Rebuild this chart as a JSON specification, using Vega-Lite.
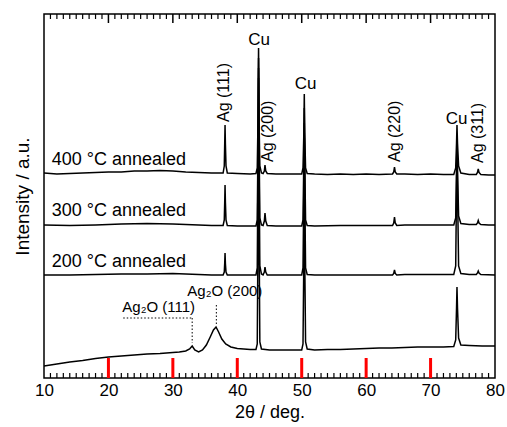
{
  "$schema": "https://vega.github.io/schema/vega-lite/v6.json",
  "width": 451,
  "height": 364,
  "autosize": {"type": "none"},
  "padding": {"left": 44, "top": 14, "right": 12, "bottom": 49},
  "background": "white",
  "config": {
    "view": {"stroke": "black", "strokeWidth": 1.5},
    "font": "Liberation Sans",
    "axis": {"labelFont": "Liberation Sans", "titleFont": "Liberation Sans", "labelColor": "black", "titleColor": "black", "grid": false, "titleFontWeight": "normal"}
  },
  "datasets": {
    "xrd": [
      {"s":"400","t":10,"i":205},{"s":"400","t":12,"i":204},{"s":"400","t":14,"i":204.5},{"s":"400","t":16,"i":205},{"s":"400","t":18,"i":205.5},{"s":"400","t":20,"i":206},{"s":"400","t":22,"i":206},{"s":"400","t":24,"i":207},{"s":"400","t":26,"i":207},{"s":"400","t":28,"i":207.5},{"s":"400","t":30,"i":207},{"s":"400","t":32,"i":206},{"s":"400","t":34,"i":205.5},{"s":"400","t":36,"i":205},
      {"s":"400","t":37.8,"i":205},{"s":"400","t":37.98,"i":212},{"s":"400","t":38.05,"i":235},{"s":"400","t":38.1,"i":253},{"s":"400","t":38.16,"i":233},{"s":"400","t":38.25,"i":212},{"s":"400","t":38.45,"i":205},
      {"s":"400","t":40,"i":204.5},{"s":"400","t":42,"i":204},
      {"s":"400","t":42.9,"i":204.5},{"s":"400","t":43.1,"i":210},{"s":"400","t":43.22,"i":260},{"s":"400","t":43.3,"i":330},{"s":"400","t":43.38,"i":258},{"s":"400","t":43.5,"i":212},{"s":"400","t":43.75,"i":205},
      {"s":"400","t":44.0,"i":204.5},{"s":"400","t":44.2,"i":207},{"s":"400","t":44.3,"i":213},{"s":"400","t":44.42,"i":207},{"s":"400","t":44.65,"i":204.5},
      {"s":"400","t":46,"i":204},{"s":"400","t":48,"i":204},
      {"s":"400","t":50.0,"i":204},{"s":"400","t":50.2,"i":210},{"s":"400","t":50.33,"i":245},{"s":"400","t":50.4,"i":284},{"s":"400","t":50.47,"i":245},{"s":"400","t":50.6,"i":210},{"s":"400","t":50.85,"i":204.5},
      {"s":"400","t":52,"i":204},{"s":"400","t":54,"i":203.5},{"s":"400","t":56,"i":204},{"s":"400","t":58,"i":203.5},{"s":"400","t":60,"i":204},{"s":"400","t":62,"i":203.5},
      {"s":"400","t":64.1,"i":204},{"s":"400","t":64.28,"i":206},{"s":"400","t":64.4,"i":211},{"s":"400","t":64.52,"i":206},{"s":"400","t":64.75,"i":204},
      {"s":"400","t":66,"i":204},{"s":"400","t":68,"i":203.5},{"s":"400","t":70,"i":204},{"s":"400","t":72,"i":203.5},
      {"s":"400","t":73.6,"i":203.5},{"s":"400","t":73.9,"i":210},{"s":"400","t":74.03,"i":235},{"s":"400","t":74.1,"i":253},{"s":"400","t":74.18,"i":235},{"s":"400","t":74.35,"i":212},{"s":"400","t":74.7,"i":205},
      {"s":"400","t":76,"i":203.5},
      {"s":"400","t":77.1,"i":203.5},{"s":"400","t":77.28,"i":205.5},{"s":"400","t":77.4,"i":209},{"s":"400","t":77.52,"i":205.5},{"s":"400","t":77.8,"i":203.5},
      {"s":"400","t":79,"i":203},{"s":"400","t":80,"i":203},

      {"s":"300","t":10,"i":153},{"s":"300","t":14,"i":152.5},{"s":"300","t":18,"i":153},{"s":"300","t":22,"i":154},{"s":"300","t":26,"i":154.5},{"s":"300","t":30,"i":154},{"s":"300","t":34,"i":153},{"s":"300","t":36,"i":152.5},
      {"s":"300","t":37.8,"i":152.5},{"s":"300","t":37.98,"i":158},{"s":"300","t":38.05,"i":176},{"s":"300","t":38.1,"i":193},{"s":"300","t":38.16,"i":175},{"s":"300","t":38.25,"i":158},{"s":"300","t":38.45,"i":152.5},
      {"s":"300","t":40,"i":152},
      {"s":"300","t":42.9,"i":152},{"s":"300","t":43.1,"i":158},{"s":"300","t":43.22,"i":240},{"s":"300","t":43.3,"i":320},{"s":"300","t":43.38,"i":238},{"s":"300","t":43.5,"i":160},{"s":"300","t":43.75,"i":153},
      {"s":"300","t":44.0,"i":152.5},{"s":"300","t":44.2,"i":157},{"s":"300","t":44.3,"i":165},{"s":"300","t":44.42,"i":157},{"s":"300","t":44.65,"i":152.5},
      {"s":"300","t":46,"i":152},{"s":"300","t":48,"i":152},
      {"s":"300","t":50.0,"i":152},{"s":"300","t":50.2,"i":158},{"s":"300","t":50.33,"i":220},{"s":"300","t":50.4,"i":270},{"s":"300","t":50.47,"i":220},{"s":"300","t":50.6,"i":158},{"s":"300","t":50.85,"i":152.5},
      {"s":"300","t":52,"i":152},{"s":"300","t":56,"i":152.5},{"s":"300","t":60,"i":152.5},{"s":"300","t":62,"i":152.5},
      {"s":"300","t":64.1,"i":152.5},{"s":"300","t":64.28,"i":155},{"s":"300","t":64.4,"i":161},{"s":"300","t":64.52,"i":155},{"s":"300","t":64.75,"i":152.5},
      {"s":"300","t":66,"i":153},{"s":"300","t":70,"i":153},{"s":"300","t":72,"i":153},
      {"s":"300","t":73.6,"i":153},{"s":"300","t":73.9,"i":160},{"s":"300","t":74.03,"i":210},{"s":"300","t":74.1,"i":240},{"s":"300","t":74.18,"i":210},{"s":"300","t":74.35,"i":162},{"s":"300","t":74.7,"i":154.5},
      {"s":"300","t":76,"i":153.5},
      {"s":"300","t":77.1,"i":153.5},{"s":"300","t":77.28,"i":155},{"s":"300","t":77.4,"i":157.5},{"s":"300","t":77.52,"i":155},{"s":"300","t":77.8,"i":153.5},
      {"s":"300","t":79,"i":153},{"s":"300","t":80,"i":153},

      {"s":"200","t":10,"i":103},{"s":"200","t":14,"i":103},{"s":"200","t":18,"i":103.5},{"s":"200","t":22,"i":104},{"s":"200","t":26,"i":104},{"s":"200","t":30,"i":104.5},{"s":"200","t":34,"i":103.5},{"s":"200","t":36,"i":103},
      {"s":"200","t":37.8,"i":103},{"s":"200","t":37.98,"i":106},{"s":"200","t":38.05,"i":115},{"s":"200","t":38.1,"i":125},{"s":"200","t":38.16,"i":114},{"s":"200","t":38.25,"i":106},{"s":"200","t":38.45,"i":103},
      {"s":"200","t":40,"i":103},
      {"s":"200","t":42.9,"i":103},{"s":"200","t":43.1,"i":110},{"s":"200","t":43.22,"i":220},{"s":"200","t":43.3,"i":310},{"s":"200","t":43.38,"i":218},{"s":"200","t":43.5,"i":112},{"s":"200","t":43.75,"i":104},
      {"s":"200","t":44.0,"i":103},{"s":"200","t":44.2,"i":106},{"s":"200","t":44.3,"i":111},{"s":"200","t":44.42,"i":106},{"s":"200","t":44.65,"i":103},
      {"s":"200","t":46,"i":103},{"s":"200","t":48,"i":103},
      {"s":"200","t":50.0,"i":103},{"s":"200","t":50.2,"i":110},{"s":"200","t":50.33,"i":190},{"s":"200","t":50.4,"i":255},{"s":"200","t":50.47,"i":190},{"s":"200","t":50.6,"i":110},{"s":"200","t":50.85,"i":103.5},
      {"s":"200","t":52,"i":103},{"s":"200","t":56,"i":103},{"s":"200","t":60,"i":103},{"s":"200","t":62,"i":103},
      {"s":"200","t":64.1,"i":103},{"s":"200","t":64.28,"i":104.5},{"s":"200","t":64.4,"i":108},{"s":"200","t":64.52,"i":104.5},{"s":"200","t":64.75,"i":103},
      {"s":"200","t":66,"i":103.5},{"s":"200","t":70,"i":103.5},{"s":"200","t":72,"i":103.5},
      {"s":"200","t":73.6,"i":103.5},{"s":"200","t":73.9,"i":112},{"s":"200","t":74.03,"i":190},{"s":"200","t":74.1,"i":225},{"s":"200","t":74.18,"i":190},{"s":"200","t":74.35,"i":112},{"s":"200","t":74.7,"i":104.5},
      {"s":"200","t":76,"i":103.5},
      {"s":"200","t":77.1,"i":103.5},{"s":"200","t":77.28,"i":105},{"s":"200","t":77.4,"i":107},{"s":"200","t":77.52,"i":105},{"s":"200","t":77.8,"i":103.5},
      {"s":"200","t":80,"i":103},

      {"s":"as","t":10,"i":12},{"s":"as","t":12,"i":14},{"s":"as","t":14,"i":16},{"s":"as","t":16,"i":17.5},{"s":"as","t":18,"i":19.5},{"s":"as","t":20,"i":21},{"s":"as","t":22,"i":22},{"s":"as","t":24,"i":23},{"s":"as","t":26,"i":24},{"s":"as","t":28,"i":24.5},{"s":"as","t":30,"i":25.5},{"s":"as","t":31,"i":26},{"s":"as","t":32,"i":27},{"s":"as","t":32.6,"i":29},{"s":"as","t":33.0,"i":32},{"s":"as","t":33.4,"i":28},{"s":"as","t":34.0,"i":26},{"s":"as","t":34.6,"i":28},{"s":"as","t":35.2,"i":33},{"s":"as","t":35.8,"i":41},{"s":"as","t":36.3,"i":48},{"s":"as","t":36.7,"i":51},{"s":"as","t":37.1,"i":46},{"s":"as","t":37.6,"i":39},{"s":"as","t":38.2,"i":34},{"s":"as","t":39,"i":31},{"s":"as","t":40,"i":29.5},{"s":"as","t":41,"i":29},{"s":"as","t":42,"i":28.5},
      {"s":"as","t":42.9,"i":28.5},{"s":"as","t":43.1,"i":34},{"s":"as","t":43.22,"i":150},{"s":"as","t":43.3,"i":300},{"s":"as","t":43.38,"i":150},{"s":"as","t":43.5,"i":36},{"s":"as","t":43.75,"i":29},
      {"s":"as","t":45,"i":28},{"s":"as","t":47,"i":28},{"s":"as","t":49,"i":28},
      {"s":"as","t":50.0,"i":28},{"s":"as","t":50.2,"i":34},{"s":"as","t":50.33,"i":120},{"s":"as","t":50.4,"i":240},{"s":"as","t":50.47,"i":120},{"s":"as","t":50.6,"i":36},{"s":"as","t":50.85,"i":29},
      {"s":"as","t":52,"i":28},{"s":"as","t":54,"i":28.5},{"s":"as","t":56,"i":28.5},{"s":"as","t":58,"i":29},{"s":"as","t":60,"i":29.5},{"s":"as","t":62,"i":30},{"s":"as","t":64,"i":30},{"s":"as","t":66,"i":30.5},{"s":"as","t":68,"i":31},{"s":"as","t":70,"i":31},{"s":"as","t":72,"i":31},
      {"s":"as","t":73.6,"i":31.5},{"s":"as","t":73.9,"i":38},{"s":"as","t":74.03,"i":70},{"s":"as","t":74.1,"i":91},{"s":"as","t":74.18,"i":70},{"s":"as","t":74.35,"i":40},{"s":"as","t":74.7,"i":33},
      {"s":"as","t":76,"i":32.5},{"s":"as","t":78,"i":32},{"s":"as","t":80,"i":32}
    ],
    "majorTicks": [{"t":20},{"t":30},{"t":40},{"t":50},{"t":60},{"t":70}],
    "minorTicks": [{"t":11},{"t":12},{"t":13},{"t":14},{"t":15},{"t":16},{"t":17},{"t":18},{"t":19},{"t":21},{"t":22},{"t":23},{"t":24},{"t":25},{"t":26},{"t":27},{"t":28},{"t":29},{"t":31},{"t":32},{"t":33},{"t":34},{"t":35},{"t":36},{"t":37},{"t":38},{"t":39},{"t":41},{"t":42},{"t":43},{"t":44},{"t":45},{"t":46},{"t":47},{"t":48},{"t":49},{"t":51},{"t":52},{"t":53},{"t":54},{"t":55},{"t":56},{"t":57},{"t":58},{"t":59},{"t":61},{"t":62},{"t":63},{"t":64},{"t":65},{"t":66},{"t":67},{"t":68},{"t":69},{"t":71},{"t":72},{"t":73},{"t":74},{"t":75},{"t":76},{"t":77},{"t":78},{"t":79}],
    "leaders": [
      {"t":22.3,"t2":33.0,"i":60,"i2":60},
      {"t":33.0,"t2":33.0,"i":60,"i2":35},
      {"t":36.75,"t2":36.75,"i":73,"i2":53}
    ],
    "leftLabels": [
      {"t":11.2,"i":218,"txt":"400 °C annealed"},
      {"t":11.2,"i":167,"txt":"300 °C annealed"},
      {"t":11.2,"i":116,"txt":"200 °C annealed"}
    ],
    "oxideLabels": [
      {"t":22.15,"i":71,"txt":"Ag₂O (111)"},
      {"t":32.24,"i":87,"txt":"Ag₂O (200)"}
    ],
    "cuLabels": [
      {"t":43.4,"i":338,"txt":"Cu"},
      {"t":50.6,"i":294,"txt":"Cu"},
      {"t":74.05,"i":259,"txt":"Cu"}
    ],
    "agLabels": [
      {"t":37.95,"i":256,"txt":"Ag (111)"},
      {"t":44.75,"i":216,"txt":"Ag (200)"},
      {"t":64.45,"i":216,"txt":"Ag (220)"},
      {"t":77.35,"i":215,"txt":"Ag (311)"}
    ]
  },
  "layer": [
    {
      "data": {"name": "xrd"},
      "mark": {"type": "line", "color": "black", "strokeWidth": 1.5, "clip": true},
      "encoding": {
        "x": {"field": "t", "type": "quantitative", "scale": {"domain": [10, 80], "nice": false, "zero": false},
              "axis": {"orient": "bottom", "values": [10,20,30,40,50,60,70,80], "domain": false, "ticks": false, "labelPadding": 4, "labelFontSize": 17, "title": "2θ / deg.", "titleFontSize": 18, "titlePadding": 5, "labelFlush": false}},
        "y": {"field": "i", "type": "quantitative", "scale": {"domain": [0, 364], "nice": false, "zero": false},
              "axis": {"orient": "left", "domain": false, "ticks": false, "labels": false, "title": "Intensity / a.u.", "titleFontSize": 19, "titlePadding": 12}},
        "detail": {"field": "s", "type": "nominal"}
      }
    },
    {
      "data": {"name": "majorTicks"},
      "mark": {"type": "rule", "color": "red", "strokeWidth": 3},
      "encoding": {"x": {"field": "t", "type": "quantitative", "axis": null}, "y": {"datum": 0, "type": "quantitative", "axis": null}, "y2": {"datum": 20}}
    },
    {
      "data": {"name": "majorTicks"},
      "mark": {"type": "rule", "color": "black", "strokeWidth": 1.5},
      "encoding": {"x": {"field": "t", "type": "quantitative", "axis": null}, "y": {"datum": 364, "type": "quantitative", "axis": null}, "y2": {"datum": 355}}
    },
    {
      "data": {"name": "minorTicks"},
      "mark": {"type": "rule", "color": "black", "strokeWidth": 1.2},
      "encoding": {"x": {"field": "t", "type": "quantitative", "axis": null}, "y": {"datum": 0, "type": "quantitative", "axis": null}, "y2": {"datum": 5}}
    },
    {
      "data": {"name": "minorTicks"},
      "mark": {"type": "rule", "color": "black", "strokeWidth": 1.2},
      "encoding": {"x": {"field": "t", "type": "quantitative", "axis": null}, "y": {"datum": 364, "type": "quantitative", "axis": null}, "y2": {"datum": 359}}
    },
    {
      "data": {"name": "leaders"},
      "mark": {"type": "rule", "color": "black", "strokeWidth": 1, "strokeDash": [1.5, 2]},
      "encoding": {
        "x": {"field": "t", "type": "quantitative", "axis": null},
        "x2": {"field": "t2"},
        "y": {"field": "i", "type": "quantitative", "axis": null},
        "y2": {"field": "i2"}
      }
    },
    {
      "data": {"name": "leftLabels"},
      "mark": {"type": "text", "align": "left", "baseline": "middle", "fontSize": 18, "color": "black", "font": "Liberation Sans"},
      "encoding": {
        "x": {"field": "t", "type": "quantitative", "axis": null},
        "y": {"field": "i", "type": "quantitative", "axis": null},
        "text": {"field": "txt"}
      }
    },
    {
      "data": {"name": "oxideLabels"},
      "mark": {"type": "text", "align": "left", "baseline": "middle", "fontSize": 15, "color": "black", "font": "Liberation Sans"},
      "encoding": {
        "x": {"field": "t", "type": "quantitative", "axis": null},
        "y": {"field": "i", "type": "quantitative", "axis": null},
        "text": {"field": "txt"}
      }
    },
    {
      "data": {"name": "agLabels"},
      "mark": {"type": "text", "align": "left", "baseline": "middle", "angle": 270, "fontSize": 16, "color": "black", "font": "Liberation Sans"},
      "encoding": {
        "x": {"field": "t", "type": "quantitative", "axis": null},
        "y": {"field": "i", "type": "quantitative", "axis": null},
        "text": {"field": "txt"}
      }
    },
    {
      "data": {"name": "cuLabels"},
      "mark": {"type": "text", "align": "center", "baseline": "middle", "fontSize": 17, "color": "black", "font": "Liberation Sans"},
      "encoding": {
        "x": {"field": "t", "type": "quantitative", "axis": null},
        "y": {"field": "i", "type": "quantitative", "axis": null},
        "text": {"field": "txt"}
      }
    }
  ],
  "resolve": {"axis": {"x": "independent", "y": "independent"}}
}
